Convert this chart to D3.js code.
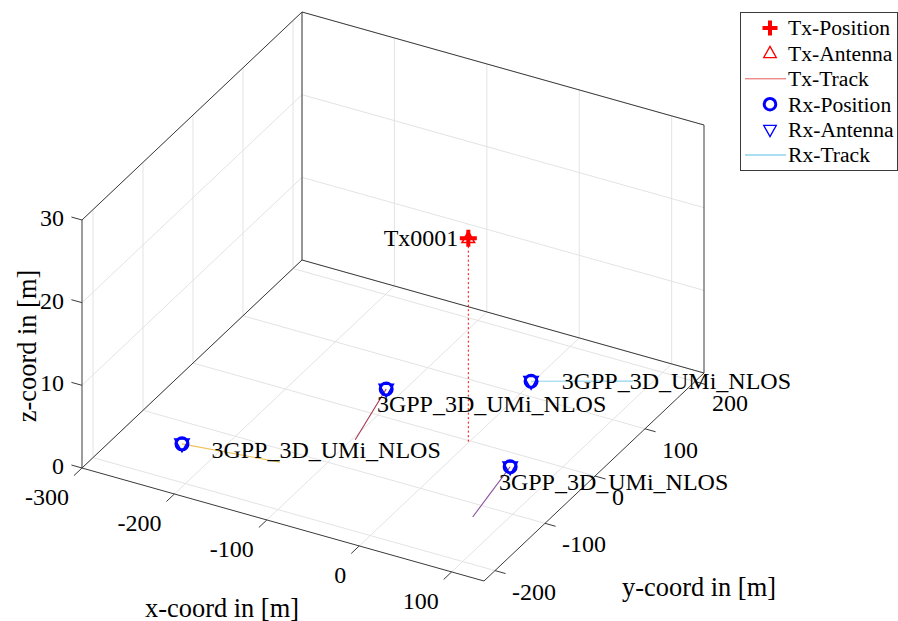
<!DOCTYPE html>
<html><head><meta charset="utf-8">
<script src="https://cdn.jsdelivr.net/npm/d3@7/dist/d3.min.js"></script>
<style>
body{margin:0;background:#fff}
svg{display:block}
text{font-family:"Liberation Serif","Times New Roman",serif;fill:#000}
</style>
</head><body>
<svg id="chart" width="898" height="621"></svg>
<script>
// ---------------- data ----------------
const xTicks = [-300, -200, -100, 0, 100];
const yTicks = [-200, -100, 0, 100, 200];
const zTicks = [0, 10, 20, 30];
const xDomain = [-300, 135];
const yDomain = [-222, 218];
const zDomain = [0, 30];
const axisTitles = ["x-coord in [m]", "y-coord in [m]", "z-coord in [m]"];

const txNames = ["Tx0001"];
const txPositions = [[-1, -2, 24.6]];
const txTrackBase = [[-1, -2, 0]];

const rxNames = ["3GPP_3D_UMi_NLOS", "3GPP_3D_UMi_NLOS", "3GPP_3D_UMi_NLOS", "3GPP_3D_UMi_NLOS"];
const rxStart = [[-227, -157, 1.5], [-105, 26, 1.5], [9, 105, 1.5], [67, -44, 1.5]];
const rxEnd   = [[-129, -142, 1.5], [-86, -71, 1.5], [94, 152, 1.5], [80, -143, 1.5]];

const legendLabels = ["Tx-Position", "Tx-Antenna", "Tx-Track", "Rx-Position", "Rx-Antenna", "Rx-Track"];

// ---------------- styles / layout ----------------
const trackColors = ["#efc15a", "#a8354c", "#8fd3ef", "#8d4f9b"];
const TX_COLOR = "#ff0000", RX_COLOR = "#0000ff";
const GRID = "#e3e3e3", BOX = "#3a3a3a";
const FS = 24;

const svg = d3.select("#chart");

// orthographic projection of the 3-D box
const sx = d3.scaleLinear().domain(xDomain).range([0, 1]);
const sy = d3.scaleLinear().domain(yDomain).range([0, 1]);
const sz = d3.scaleLinear().domain(zDomain).range([0, 1]);
const O = [82, 468], EX = [402, 113], EY = [220, -208], EZ = [0, -248];
function P(x, y, z) {
  const a = sx(x), b = sy(y), c = sz(z);
  return [O[0] + a * EX[0] + b * EY[0] + c * EZ[0], O[1] + a * EX[1] + b * EY[1] + c * EZ[1]];
}
const line = d3.line();
const [x0, x1] = xDomain, [y0, y1] = yDomain, [z0, z1] = zDomain;

// ---------------- grid ----------------
const g = svg.append("g").attr("fill", "none");
const gridSegs = [];
xTicks.forEach(x => { gridSegs.push([P(x, y0, 0), P(x, y1, 0)]); gridSegs.push([P(x, y1, z0), P(x, y1, z1)]); });
yTicks.forEach(y => { gridSegs.push([P(x0, y, 0), P(x1, y, 0)]); gridSegs.push([P(x0, y, z0), P(x0, y, z1)]); });
zTicks.forEach(z => { gridSegs.push([P(x0, y0, z), P(x0, y1, z)]); gridSegs.push([P(x0, y1, z), P(x1, y1, z)]); });
g.selectAll("path.grid").data(gridSegs).join("path").attr("class", "grid")
  .attr("d", d => line(d)).attr("stroke", GRID).attr("stroke-width", 1);

// ---------------- box ----------------
const boxSegs = [
  [P(x0, y0, z0), P(x1, y0, z0)],
  [P(x1, y0, z0), P(x1, y1, z0)],
  [P(x0, y0, z0), P(x0, y0, z1)],
  [P(x0, y0, z1), P(x0, y1, z1)],
  [P(x0, y1, z0), P(x0, y1, z1)],
  [P(x0, y1, z1), P(x1, y1, z1)],
  [P(x1, y1, z0), P(x1, y1, z1)],
  [P(x0, y0, z0), P(x0, y1, z0)],
  [P(x0, y1, z0), P(x1, y1, z0)]
];
g.selectAll("path.box").data(boxSegs).join("path").attr("class", "box")
  .attr("d", d => line(d)).attr("stroke", BOX).attr("stroke-width", 1);

// ---------------- ticks ----------------
function unit(v) { const n = Math.hypot(v[0], v[1]); return [v[0] / n, v[1] / n]; }
const ux = unit(EX), uy = unit(EY);
const TL = 11;
const tickG = svg.append("g");
xTicks.forEach(x => {
  const p = P(x, y0, 0);
  tickG.append("path").attr("d", line([p, [p[0] - uy[0] * TL, p[1] - uy[1] * TL]])).attr("stroke", BOX).attr("fill", "none");
  tickG.append("text").attr("x", p[0] - 13).attr("y", p[1] + 29).attr("dy", "0.34em")
    .attr("text-anchor", "end").style("font-size", FS + "px").text(x);
});
yTicks.forEach(y => {
  const p = P(x1, y, 0);
  tickG.append("path").attr("d", line([p, [p[0] + ux[0] * TL, p[1] + ux[1] * TL]])).attr("stroke", BOX).attr("fill", "none");
  tickG.append("text").attr("x", p[0] + 17).attr("y", p[1] + 21).attr("dy", "0.34em")
    .attr("text-anchor", "start").style("font-size", FS + "px").text(y);
});
zTicks.forEach(z => {
  const p = P(x0, y0, z);
  tickG.append("path").attr("d", line([p, [p[0] - ux[0] * TL, p[1] - ux[1] * TL]])).attr("stroke", BOX).attr("fill", "none");
  tickG.append("text").attr("x", p[0] - 18).attr("y", p[1] - 2).attr("dy", "0.34em")
    .attr("text-anchor", "end").style("font-size", FS + "px").text(z);
});

// axis titles
const xm = P((x0 + x1) / 2, y0, 0), ym = P(x1, (y0 + y1) / 2, 0), zm = P(x0, y0, (z0 + z1) / 2);
tickG.append("text").attr("x", xm[0] - 61).attr("y", xm[1] + 84).attr("dy", "0.34em")
  .attr("text-anchor", "middle").style("font-size", (FS * 1.1) + "px").text(axisTitles[0]);
tickG.append("text").attr("x", ym[0] + 105).attr("y", ym[1] + 110).attr("dy", "0.34em")
  .attr("text-anchor", "middle").style("font-size", (FS * 1.1) + "px").text(axisTitles[1]);
tickG.append("text").attr("transform", `translate(${zm[0] - 55},${zm[1] + 2}) rotate(-90)`).attr("dy", "0.34em")
  .attr("text-anchor", "middle").style("font-size", (FS * 1.1) + "px").text(axisTitles[2]);

// ---------------- marker helpers ----------------
function plusPath(s) { return `M${-s},0H${s}M0,${-s}V${s}`; }
function triUp(s) { return `M0,${-s}L${s * 0.9},${s * 0.6}L${-s * 0.9},${s * 0.6}Z`; }
function triDown(s) { return `M0,${s}L${s * 0.9},${-s * 0.6}L${-s * 0.9},${-s * 0.6}Z`; }

const dataG = svg.append("g");

// Tx track (dotted)
txPositions.forEach((t, i) => {
  dataG.append("path").attr("d", line([P(...txTrackBase[i]), P(...t)]))
    .attr("stroke", TX_COLOR).attr("stroke-width", 1).attr("stroke-dasharray", "2,2.5").attr("fill", "none");
});

// Rx tracks
rxStart.forEach((s, i) => {
  dataG.append("path").attr("d", line([P(...s), P(...rxEnd[i])]))
    .attr("stroke", trackColors[i]).attr("stroke-width", 1.1).attr("fill", "none");
});

// Rx markers
rxStart.forEach(s => {
  const p = P(...s);
  const m = dataG.append("g").attr("transform", `translate(${p[0]},${p[1]})`);
  m.append("circle").attr("r", 6).attr("fill", "none").attr("stroke", RX_COLOR).attr("stroke-width", 3);
  m.append("path").attr("d", triDown(8)).attr("fill", "none").attr("stroke", RX_COLOR).attr("stroke-width", 1.5);
});

// Tx markers
txPositions.forEach(t => {
  const p = P(...t);
  const m = dataG.append("g").attr("transform", `translate(${p[0]},${p[1]})`);
  m.append("path").attr("d", triUp(7)).attr("fill", "none").attr("stroke", TX_COLOR).attr("stroke-width", 1.5);
  m.append("path").attr("d", plusPath(8.5)).attr("fill", "none").attr("stroke", TX_COLOR).attr("stroke-width", 4);
});

// labels
txPositions.forEach((t, i) => {
  const p = P(...t);
  dataG.append("text").attr("x", p[0] - 10).attr("y", p[1]).attr("dy", "0.34em")
    .attr("text-anchor", "end").style("font-size", FS + "px").text(txNames[i]);
});
rxStart.forEach((s, i) => {
  const a = P(...s), b = P(...rxEnd[i]);
  const p = [a[0] + 0.3 * (b[0] - a[0]), a[1] + 0.3 * (b[1] - a[1])];
  dataG.append("text").attr("x", p[0]).attr("y", p[1]).attr("dy", "0.34em")
    .attr("text-anchor", "start").style("font-size", FS + "px").text(rxNames[i]);
});

// ---------------- legend ----------------
const lg = svg.append("g");
lg.append("rect").attr("x", 740.5).attr("y", 12.5).attr("width", 157).attr("height", 158)
  .attr("fill", "#fff").attr("stroke", BOX).attr("stroke-width", 1);
const LF = FS * 0.9;
legendLabels.forEach((lab, i) => {
  const cy = 28 + i * 25.4, cx = 770;
  const item = lg.append("g");
  if (i === 0) item.append("path").attr("transform", `translate(${cx},${cy})`).attr("d", plusPath(7.5))
    .attr("stroke", TX_COLOR).attr("stroke-width", 4).attr("fill", "none");
  if (i === 1) item.append("path").attr("transform", `translate(${cx},${cy})`).attr("d", triUp(7))
    .attr("stroke", TX_COLOR).attr("stroke-width", 1.3).attr("fill", "none");
  if (i === 2) item.append("path").attr("d", line([[745, cy], [786, cy]]))
    .attr("stroke", "#e65a5a").attr("stroke-width", 1).attr("fill", "none");
  if (i === 3) item.append("circle").attr("cx", cx).attr("cy", cy).attr("r", 5.8)
    .attr("stroke", RX_COLOR).attr("stroke-width", 3).attr("fill", "none");
  if (i === 4) item.append("path").attr("transform", `translate(${cx},${cy})`).attr("d", triDown(7))
    .attr("stroke", RX_COLOR).attr("stroke-width", 1.3).attr("fill", "none");
  if (i === 5) item.append("path").attr("d", line([[745, cy], [786, cy]]))
    .attr("stroke", trackColors[2]).attr("stroke-width", 1.3).attr("fill", "none");
  item.append("text").attr("x", 788).attr("y", cy).attr("dy", "0.34em")
    .style("font-size", LF + "px").text(lab);
});
</script>
</body></html>
